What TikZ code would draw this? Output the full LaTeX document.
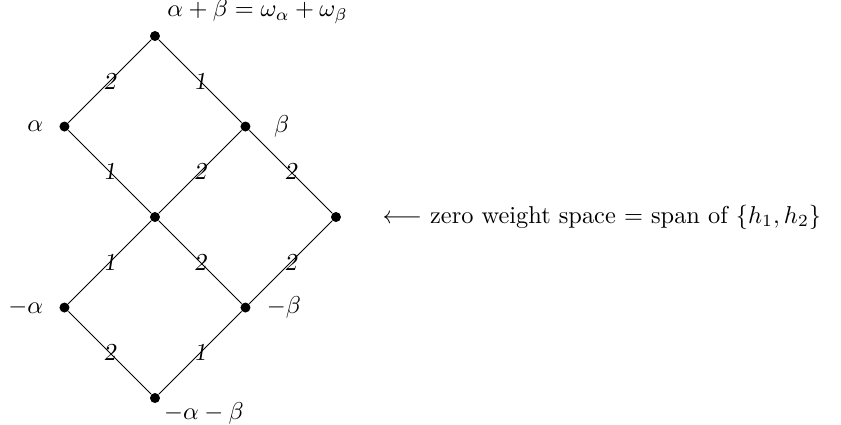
\documentclass[tikz,border=0pt]{standalone}
\usetikzlibrary{positioning}
\begin{document}
\begin{tikzpicture}[x=1.304cm, y=1.304cm,
    wt/.style={circle, fill=black, inner sep=0pt, minimum size=0.144cm},
    mult/.style={midway, font=\slshape, inner sep=0pt}]
    \useasboundingbox (-2.233cm,-2.983cm) rectangle (9.885cm,3.127cm);
    % weights
    \node[wt, label={[label distance=0pt]above right:$\alpha+\beta=\omega_\alpha+\omega_\beta$}] (top) at (0,2) {};
    \node[wt, label={[label distance=3pt]left:$\alpha$}] (alpha) at (-1,1) {};
    \node[wt, label={[label distance=6pt]right:$\beta$}] (beta) at (1,1) {};
    \node[wt] (zero) at (0,0) {};
    \node[wt] (zerob) at (2,0) {};
    \node[wt, label={[label distance=3pt]left:$-\alpha$}] (malpha) at (-1,-1) {};
    \node[wt, label={[label distance=3pt]right:$-\beta$}] (mbeta) at (1,-1) {};
    \node[wt, label={[inner sep=0pt, xshift=2pt]below right:$-\alpha-\beta$}] (bottom) at (0,-2) {};
    \node[right=0.47cm of zerob] (zwtext) {$\longleftarrow$ zero weight space $=$ span of $\{h_1,h_2\}$};
    % edges
    \draw (top) -- node[mult] {2} (alpha);
    \draw (top) -- node[mult] {1} (beta);
    \draw (alpha) -- node[mult] {1} (zero);
    \draw (beta) -- node[mult] {2} (zero);
    \draw (beta) -- node[mult] {2} (zerob);
    \draw (zero) -- node[mult] {1} (malpha);
    \draw (zero) -- node[mult] {2} (mbeta);
    \draw (zerob) -- node[mult] {2} (mbeta);
    \draw (malpha) -- node[mult] {2} (bottom);
    \draw (mbeta) -- node[mult] {1} (bottom);
\end{tikzpicture}
\end{document}
